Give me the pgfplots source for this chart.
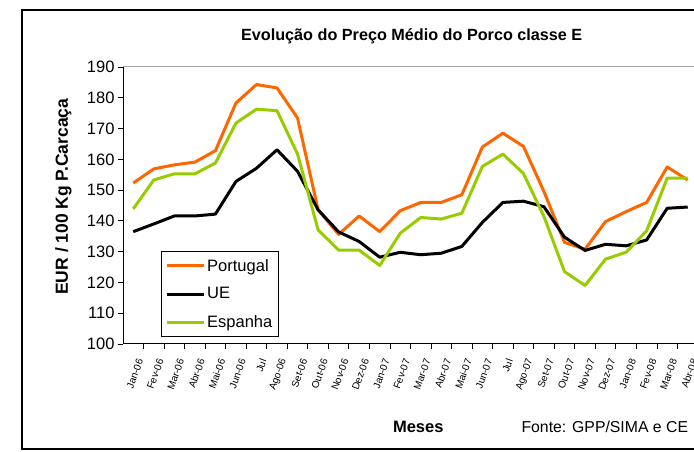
\documentclass[border=0pt]{standalone}
\usepackage{pgfplots}
\pgfplotsset{compat=1.18}
\usepackage{fontspec}
\setmainfont{Liberation Sans}
\definecolor{ptorange}{RGB}{255,102,0}
\definecolor{esgreen}{RGB}{153,204,0}
\begin{document}
\begin{tikzpicture}[x=1pt,y=1pt]
\useasboundingbox (0,0) rectangle (694,452);
\begin{scope}
\clip (0,0) rectangle (694,452);
\draw[line width=1.3pt] (22,3) rectangle (720,442);
\node[font=\bfseries\fontsize{16.2}{19}\selectfont] at (411.7,415.3) {Evolução do Preço Médio do Porco classe E};
\node[rotate=90,font=\bfseries\fontsize{17.5}{20}\selectfont] at (63.3,255.3) {EUR / 100 Kg P.Carcaça};
\node[font=\bfseries\fontsize{16.5}{19}\selectfont] at (418.3,25.3) {Meses};
\node[anchor=west,font=\fontsize{15.8}{18}\selectfont] at (518,25.3) {Fonte: GPP/SIMA e CE};
\draw[gray!70,line width=1pt] (123,385) -- (700,385);
\begin{axis}[
  at={(123pt,108pt)}, anchor=south west,
  scale only axis, width=575pt, height=277pt,
  xmin=-0.5, xmax=27.5, ymin=100, ymax=190,
  axis x line=bottom, axis y line=left,
  axis line style={-, line width=1pt, black},
  ytick={100,110,...,190},
  xtick={0,...,27},
  xticklabels={Jan-06,Fev-06,Mar-06,Abr-06,Mai-06,Jun-06,Jul,Ago-06,Set-06,Out-06,Nov-06,Dez-06,Jan-07,Fev-07,Mar-07,Abr-07,Mai-07,Jun-07,Jul,Ago-07,Set-07,Out-07,Nov-07,Dez-07,Jan-08,Fev-08,Mar-08,Abr-08},
  minor x tick num=1,
  major x tick style={draw=none},
  tick align=outside,
  major tick length=5pt, minor tick length=5pt,
  tick style={black, line width=0.8pt},
  yticklabel style={font=\fontsize{16.5}{18}\selectfont},
  xticklabel style={font=\fontsize{10}{11}\selectfont, rotate=70, anchor=east, xshift=-4pt, yshift=-10pt},
  /pgf/number format/assume math mode=true,
  legend style={at={(0.0656,0.337)}, anchor=north west, draw=black, line width=1pt,
    font=\fontsize{16.5}{18}\selectfont, row sep=11pt, inner xsep=4pt, inner ysep=6pt},
  legend cell align=left,
  legend image code/.code={\draw[#1] (0pt,0pt) -- (37pt,0pt);},
  every axis plot/.append style={line width=3pt, line join=round, no markers},
]
\addplot[ptorange] coordinates {(0,152.3)(1,156.9)(2,158.2)(3,159.1)(4,162.8)(5,178.3)(6,184.3)(7,183.2)(8,173.4)(9,143.6)(10,135.6)(11,141.6)(12,136.5)(13,143.3)(14,146)(15,146)(16,148.5)(17,164)(18,168.5)(19,164.2)(20,149.5)(21,133)(22,130.8)(23,139.8)(24,143)(25,146)(26,157.5)(27,153.3)};
\addlegendentry{Portugal}
\addplot[black] coordinates {(0,136.5)(1,139)(2,141.6)(3,141.6)(4,142.2)(5,152.8)(6,157.1)(7,163.1)(8,156.1)(9,143.6)(10,136.4)(11,133.3)(12,128.2)(13,129.8)(14,129)(15,129.5)(16,131.7)(17,139.5)(18,146)(19,146.4)(20,144.6)(21,134.7)(22,130.4)(23,132.4)(24,131.9)(25,133.8)(26,144.1)(27,144.5)};
\addlegendentry{UE}
\addplot[esgreen] coordinates {(0,143.9)(1,153.3)(2,155.3)(3,155.3)(4,158.8)(5,171.8)(6,176.3)(7,175.8)(8,161.7)(9,137.1)(10,130.5)(11,130.5)(12,125.5)(13,136)(14,141.1)(15,140.6)(16,142.5)(17,157.7)(18,161.7)(19,155.4)(20,141.4)(21,123.5)(22,119)(23,127.6)(24,129.8)(25,136.8)(26,153.9)(27,153.9)};
\addlegendentry{Espanha}
\end{axis}
\end{scope}
\end{tikzpicture}
\end{document}
